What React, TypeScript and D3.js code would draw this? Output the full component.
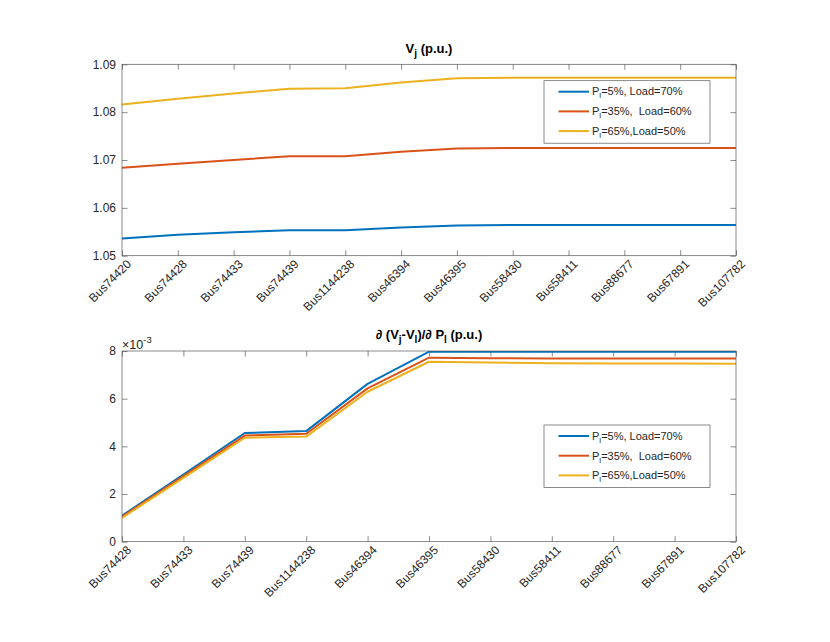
import React, { useEffect, useRef } from "react";
import * as d3 from "d3";

const topBuses = [
  "Bus74420", "Bus74428", "Bus74433", "Bus74439", "Bus1144238", "Bus46394",
  "Bus46395", "Bus58430", "Bus58411", "Bus88677", "Bus67891", "Bus107782",
];
const bottomBuses = [
  "Bus74428", "Bus74433", "Bus74439", "Bus1144238", "Bus46394", "Bus46395",
  "Bus58430", "Bus58411", "Bus88677", "Bus67891", "Bus107782",
];

// V_j (p.u.)
const vjLow = [1.0536, 1.0544, 1.0549, 1.0553, 1.0553, 1.0559, 1.0563, 1.0564, 1.0564, 1.0564, 1.0564, 1.0564];
const vjMid = [1.0684, 1.0692, 1.07, 1.0708, 1.0708, 1.0717, 1.0724, 1.0725, 1.0725, 1.0725, 1.0725, 1.0725];
const vjHigh = [1.0816, 1.0828, 1.0839, 1.0849, 1.085, 1.0862, 1.0871, 1.0872, 1.0872, 1.0872, 1.0872, 1.0872];

// d(Vj-Vl)/dPl, in units of 1e-3
const dvLow = [1.09, 2.82, 4.56, 4.64, 6.62, 7.97, 7.97, 7.97, 7.97, 7.97, 7.97];
const dvMid = [1.05, 2.75, 4.45, 4.53, 6.43, 7.72, 7.7, 7.69, 7.69, 7.69, 7.69];
const dvHigh = [1.0, 2.68, 4.36, 4.41, 6.29, 7.55, 7.52, 7.49, 7.48, 7.48, 7.47];

const topTicks = [1.05, 1.06, 1.07, 1.08, 1.09];
const bottomTicks = [0, 2, 4, 6, 8];

const legendLabels = [
  { pre: "P", sub: "l", post: "=5%, Load=70%" },
  { pre: "P", sub: "l", post: "=35%,  Load=60%" },
  { pre: "P", sub: "l", post: "=65%,Load=50%" },
];
const seriesColors = ["#0072BD", "#D95319", "#EDB120"];

const W = 830;
const H = 642;
const FONT = "'Liberation Sans', Arial, Helvetica, sans-serif";
const TEXT = "#262626";
const AXIS = "#5a5a5a";

export default function App() {
  const ref = useRef<SVGSVGElement>(null);

  useEffect(() => {
    if (!ref.current) return;
    const svg = d3.select(ref.current);
    svg.selectAll("*").remove();

    const drawPanel = (opts: {
      id: string;
      cats: string[];
      series: number[][];
      ticks: number[];
      domain: [number, number];
      fmt: (d: number) => string;
      top: number;
      bottom: number;
      legendY: number;
    }) => {
      const left = 122;
      const right = 736;
      const x = d3.scalePoint<string>().domain(opts.cats).range([left, right]).padding(0);
      const y = d3.scaleLinear().domain(opts.domain).range([opts.bottom, opts.top]);

      const g = svg.append("g");

      svg
        .append("defs")
        .append("clipPath")
        .attr("id", opts.id)
        .append("rect")
        .attr("x", left)
        .attr("y", opts.top)
        .attr("width", right - left)
        .attr("height", opts.bottom - opts.top);

      const tick = 5.5;
      const styleAxis = (sel: d3.Selection<SVGGElement, unknown, null, undefined>) => {
        sel.select(".domain").remove();
        sel.selectAll(".tick line").attr("stroke", AXIS).attr("stroke-width", 0.7);
        sel.selectAll(".tick text").attr("fill", TEXT).attr("font-family", FONT).attr("font-size", 12);
      };

      // bottom axis with rotated labels
      const xb = g
        .append("g")
        .attr("transform", `translate(0,${opts.bottom})`)
        .call(d3.axisBottom(x).tickSize(-tick).tickSizeOuter(0));
      styleAxis(xb);
      xb.selectAll<SVGTextElement, string>(".tick text")
        .attr("text-anchor", "end")
        .attr("y", 0)
        .attr("dy", 0)
        .attr("transform", "translate(9.5,9) rotate(-45)");

      const xt = g
        .append("g")
        .attr("transform", `translate(0,${opts.top})`)
        .call(d3.axisTop(x).tickSize(-tick).tickSizeOuter(0).tickFormat(() => ""));
      styleAxis(xt);

      const yl = g
        .append("g")
        .attr("transform", `translate(${left},0)`)
        .call(d3.axisLeft(y).tickValues(opts.ticks).tickSize(-tick).tickSizeOuter(0).tickPadding(6).tickFormat((d) => opts.fmt(d as number)));
      styleAxis(yl);

      const yr = g
        .append("g")
        .attr("transform", `translate(${right},0)`)
        .call(d3.axisRight(y).tickValues(opts.ticks).tickSize(-tick).tickSizeOuter(0).tickFormat(() => ""));
      styleAxis(yr);

      const line = d3
        .line<number>()
        .x((_, i) => x(opts.cats[i])!)
        .y((d) => y(d));

      g.append("g")
        .attr("clip-path", `url(#${opts.id})`)
        .selectAll("path")
        .data(opts.series)
        .join("path")
        .attr("d", (d) => line(d))
        .attr("fill", "none")
        .attr("stroke", (_, i) => seriesColors[i])
        .attr("stroke-width", 2)
        .attr("stroke-linejoin", "round");

      g.append("rect")
        .attr("x", left)
        .attr("y", opts.top)
        .attr("width", right - left)
        .attr("height", opts.bottom - opts.top)
        .attr("fill", "none")
        .attr("stroke", AXIS)
        .attr("stroke-width", 0.7);

      // legend
      const lx = 544;
      const lw = 166;
      const lh = 62.5;
      const lg = g.append("g").attr("transform", `translate(${lx},${opts.legendY})`);
      lg.append("rect")
        .attr("width", lw)
        .attr("height", lh)
        .attr("fill", "#fff")
        .attr("stroke", AXIS)
        .attr("stroke-width", 0.7);
      legendLabels.forEach((lab, i) => {
        const ry = 11 + i * 19.7;
        lg.append("line")
          .attr("x1", 14.5)
          .attr("x2", 45)
          .attr("y1", ry)
          .attr("y2", ry)
          .attr("stroke", seriesColors[i])
          .attr("stroke-width", 2);
        const t = lg
          .append("text")
          .attr("x", 48)
          .attr("y", ry + 3.8)
          .attr("font-family", FONT)
          .attr("font-size", 11)
          .attr("fill", TEXT)
          .style("white-space", "pre");
        t.append("tspan").text(lab.pre);
        t.append("tspan").attr("dy", 3).attr("font-size", 8).text(lab.sub);
        t.append("tspan").attr("dy", -3).text(lab.post);
      });

      return g;
    };

    drawPanel({
      id: "clipTop",
      cats: topBuses,
      series: [vjLow, vjMid, vjHigh],
      ticks: topTicks,
      domain: [1.05, 1.09],
      fmt: (d) => d3.format(".2f")(d),
      top: 64.3,
      bottom: 255.7,
      legendY: 80.7,
    });

    drawPanel({
      id: "clipBottom",
      cats: bottomBuses,
      series: [dvLow, dvMid, dvHigh],
      ticks: bottomTicks,
      domain: [0, 8],
      fmt: (d) => String(d),
      top: 351,
      bottom: 541.7,
      legendY: 425,
    });

    // titles
    const t1 = svg
      .append("text")
      .attr("x", 429)
      .attr("y", 53)
      .attr("text-anchor", "middle")
      .attr("font-family", FONT)
      .attr("font-size", 13)
      .attr("font-weight", "bold")
      .attr("fill", "#000");
    t1.append("tspan").text("V");
    t1.append("tspan").attr("dy", 3.5).attr("font-size", 10).text("j");
    t1.append("tspan").attr("dy", -3.5).text(" (p.u.)");

    const t2 = svg
      .append("text")
      .attr("x", 429)
      .attr("y", 339)
      .attr("text-anchor", "middle")
      .attr("font-family", FONT)
      .attr("font-size", 13)
      .attr("font-weight", "bold")
      .attr("fill", "#000");
    t2.append("tspan").attr("font-style", "italic").text("∂");
    t2.append("tspan").text(" (V");
    t2.append("tspan").attr("dy", 3.5).attr("font-size", 10).text("j");
    t2.append("tspan").attr("dy", -3.5).text("-V");
    t2.append("tspan").attr("dy", 3.5).attr("font-size", 10).text("l");
    t2.append("tspan").attr("dy", -3.5).text(")/");
    t2.append("tspan").attr("font-style", "italic").text("∂");
    t2.append("tspan").text(" P");
    t2.append("tspan").attr("dy", 3.5).attr("font-size", 10).text("l");
    t2.append("tspan").attr("dy", -3.5).text(" (p.u.)");

    // exponent label
    const ex = svg
      .append("text")
      .attr("x", 122)
      .attr("y", 348.5)
      .attr("font-family", FONT)
      .attr("font-size", 12.5)
      .attr("fill", TEXT);
    ex.append("tspan").text("×10");
    ex.append("tspan").attr("dy", -5.5).attr("font-size", 9.5).text("-3");
  }, []);

  return (
    <svg
      ref={ref}
      width={W}
      height={H}
      viewBox={`0 0 ${W} ${H}`}
      style={{ position: "absolute", left: 0, top: 0, background: "#fff" }}
    />
  );
}
